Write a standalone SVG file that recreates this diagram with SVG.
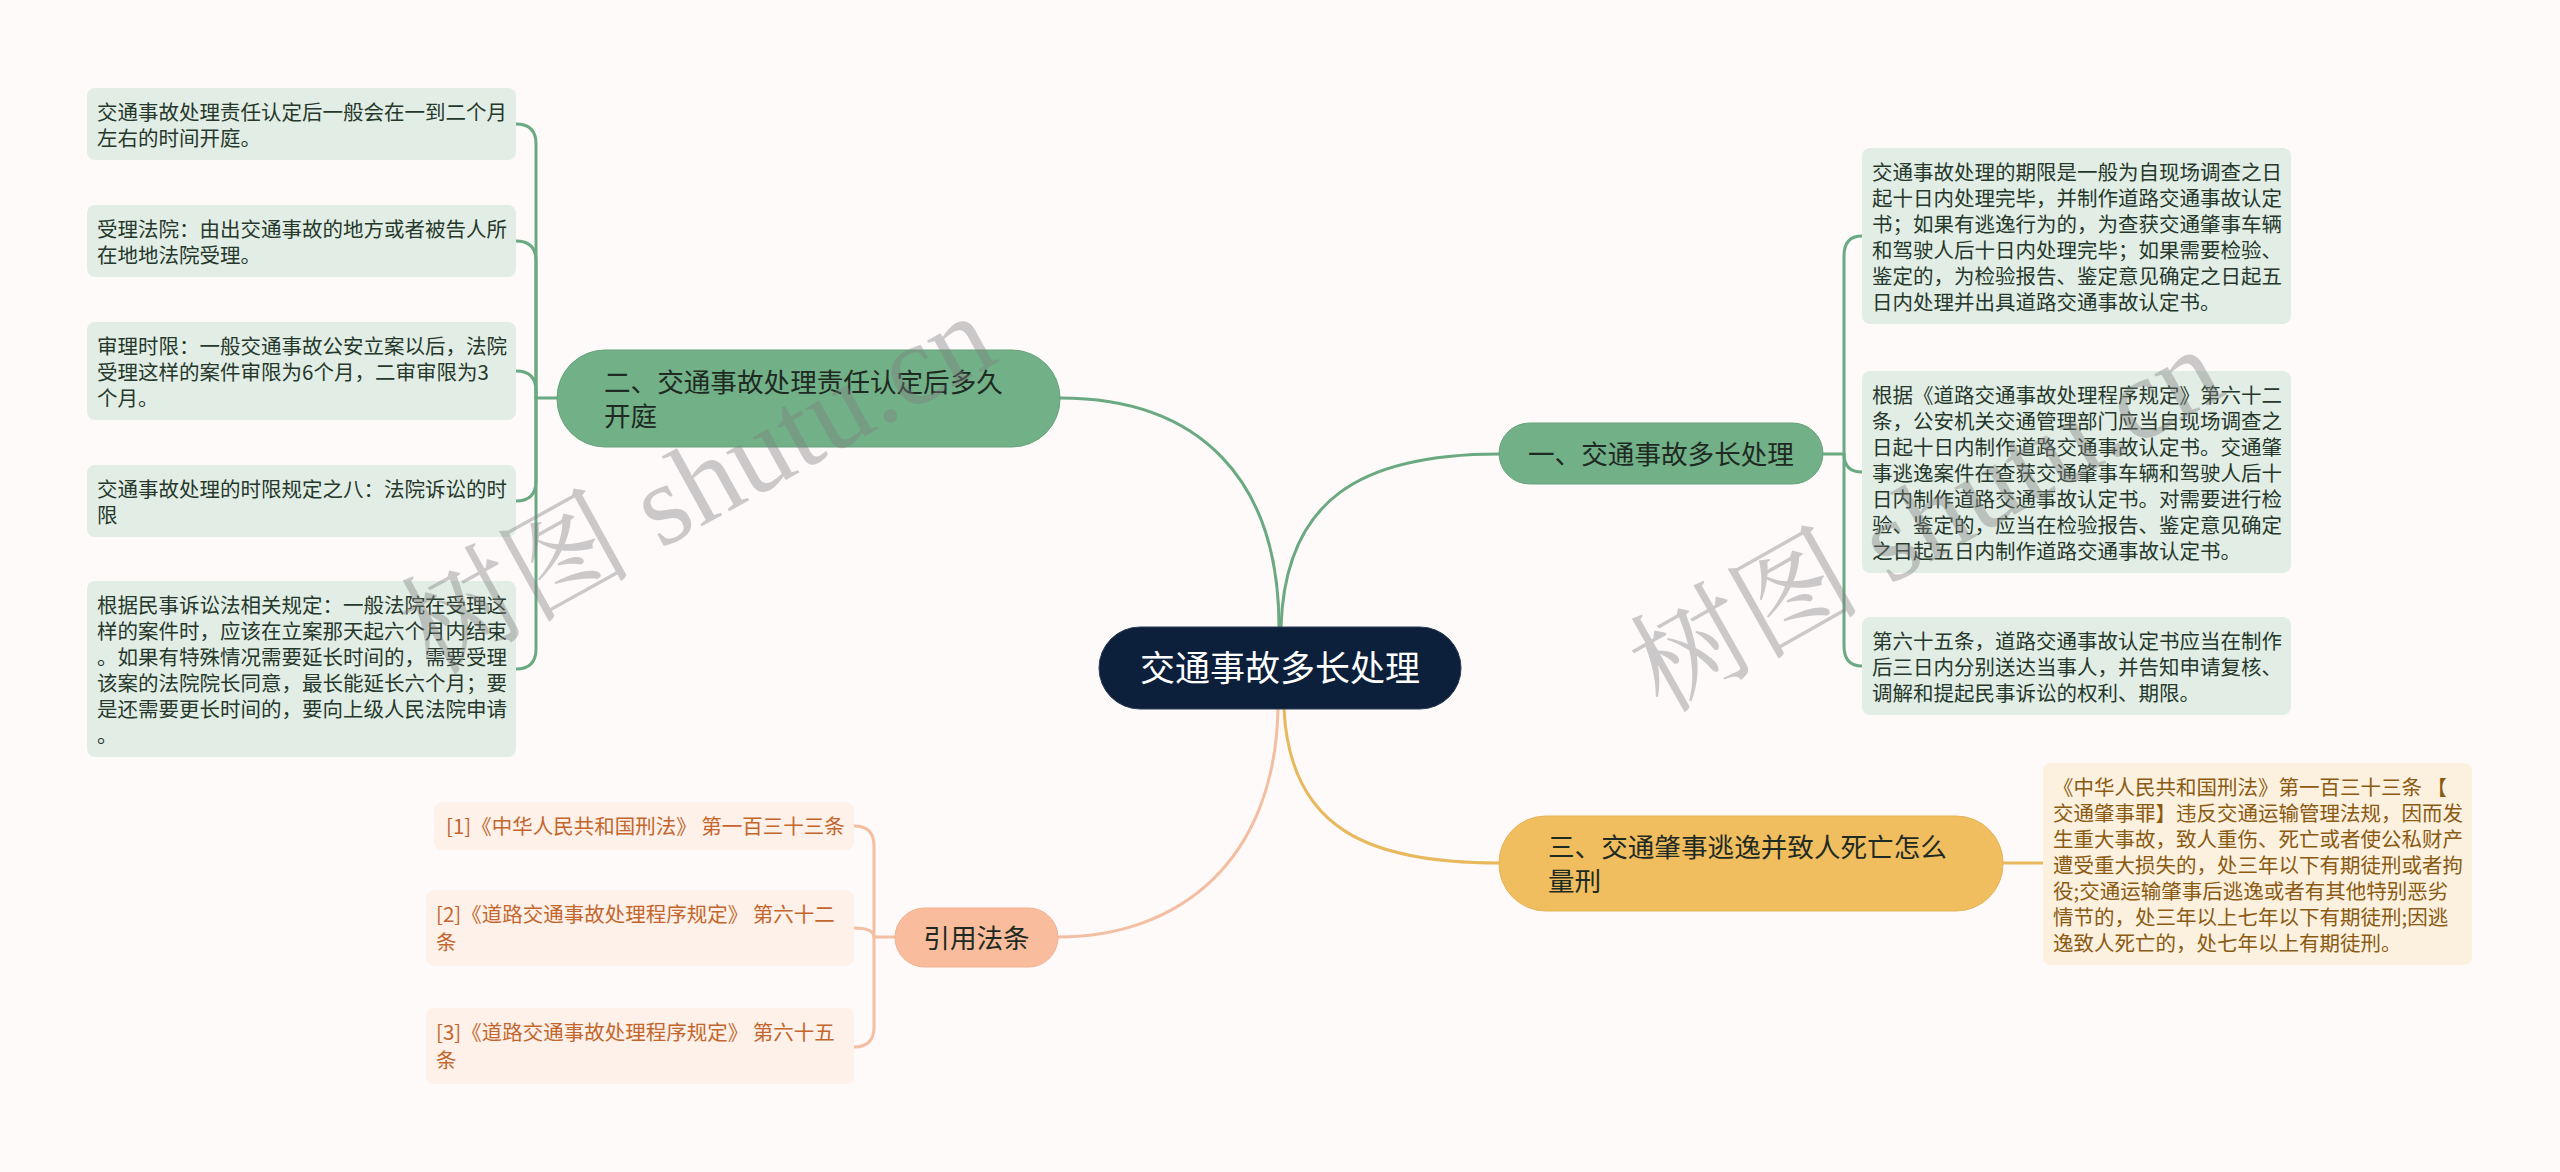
<svg xmlns="http://www.w3.org/2000/svg" width="2560" height="1172" viewBox="0 0 2560 1172">
<defs>
<style>
.bg{fill:#fdfaf9}
.cn{fill:none;stroke-width:3;stroke-linecap:round}
.g{stroke:#6aa981}
.y{stroke:#e8b85c}
.s{stroke:#f4bea2}
.leaf{fill:#e2eee5}
.lt{font-family:"Noto Sans CJK SC","Noto Sans",sans-serif;font-size:20.5px;fill:#26382c}
.br{font-family:"Noto Sans CJK SC","Noto Sans",sans-serif;font-size:26.6px;fill:#1e2a22}
.ot{font-family:"Noto Sans CJK SC","Noto Sans",sans-serif;font-size:20.5px;fill:#8b5a13}
.rt{font-family:"Noto Sans CJK SC","Noto Sans",sans-serif;font-size:20.5px;fill:#c4662c}
.wm{font-family:"Liberation Serif","Noto Serif CJK SC","Noto Sans CJK SC",serif;font-size:116px;fill:#808080;opacity:0.4}
</style>
</defs>
<rect class="bg" x="0" y="0" width="2560" height="1172"/>

<g id="connectors">
<path class="cn g" d="M1281,627 C1285,500 1360,454 1499,454"/>
<path class="cn g" d="M1060,398 C1200,398 1279,480 1279,627"/>
<path class="cn y" d="M1284,709 C1290,830 1370,863 1499,863"/>
<path class="cn s" d="M1278,709 C1275,860 1180,937 1058,937"/>
<path class="cn g" d="M1823,454 H1844"/>
<path class="cn g" d="M1844,454 V256 Q1844,236 1862,236"/>
<path class="cn g" d="M1844,454 Q1844,472 1862,472"/>
<path class="cn g" d="M1844,454 V646 Q1844,666 1862,666"/>
<path class="cn g" d="M557,398 H536"/>
<path class="cn g" d="M536,398 V144 Q536,124 516,124"/>
<path class="cn g" d="M536,398 V261 Q536,241 516,241"/>
<path class="cn g" d="M536,398 V391 Q536,371 516,371"/>
<path class="cn g" d="M536,398 V481 Q536,501 516,501"/>
<path class="cn g" d="M536,398 V649 Q536,669 516,669"/>
<path class="cn y" d="M2003,863 H2043"/>
<path class="cn s" d="M895,937 H874"/>
<path class="cn s" d="M874,937 V846 Q874,826 854,826"/>
<path class="cn s" d="M874,937 Q874,928 854,928"/>
<path class="cn s" d="M874,937 V1027 Q874,1047 854,1047"/>
</g>

<g id="center">
<rect x="1099" y="627" width="362" height="82" rx="41" fill="#0c1f3b" stroke="#2b3b55" stroke-width="1"/>
<text x="1280" y="681" text-anchor="middle" font-family="Noto Sans CJK SC,Noto Sans,sans-serif" font-size="35" fill="#ffffff">交通事故多长处理</text>
</g>

<g id="branch1">
<rect x="1499" y="423" width="324" height="61" rx="30.5" fill="#72b088" stroke="#66a37c" stroke-width="1"/>
<text class="br" x="1661" y="464" text-anchor="middle">一、交通事故多长处理</text>
</g>

<g id="branch2">
<rect x="557" y="350" width="503" height="97" rx="48" fill="#72b088" stroke="#66a37c" stroke-width="1"/>
<text class="br" x="604" y="392">二、交通事故处理责任认定后多久</text>
<text class="br" x="604" y="426">开庭</text>
</g>

<g id="branch3">
<rect x="1499" y="816" width="504" height="95" rx="47" fill="#f0be5f" stroke="#e6b357" stroke-width="1"/>
<text class="br" x="1548" y="857">三、交通肇事逃逸并致人死亡怎么</text>
<text class="br" x="1548" y="891">量刑</text>
</g>

<g id="branch4">
<rect x="895" y="908" width="163" height="59" rx="29.5" fill="#f9bc9c" stroke="#f2b090" stroke-width="1"/>
<text class="br" x="976.5" y="948" text-anchor="middle">引用法条</text>
</g>

<g id="r1">
<rect class="leaf" x="1862" y="148" width="429" height="176" rx="8"/>
<text class="lt" x="1872" y="180">交通事故处理的期限是一般为自现场调查之日</text>
<text class="lt" x="1872" y="206">起十日内处理完毕，并制作道路交通事故认定</text>
<text class="lt" x="1872" y="232">书；如果有逃逸行为的，为查获交通肇事车辆</text>
<text class="lt" x="1872" y="258">和驾驶人后十日内处理完毕；如果需要检验、</text>
<text class="lt" x="1872" y="284">鉴定的，为检验报告、鉴定意见确定之日起五</text>
<text class="lt" x="1872" y="310">日内处理并出具道路交通事故认定书。</text>
</g>
<g id="r2">
<rect class="leaf" x="1862" y="371" width="429" height="202" rx="8"/>
<text class="lt" x="1872" y="403">根据《道路交通事故处理程序规定》第六十二</text>
<text class="lt" x="1872" y="429">条，公安机关交通管理部门应当自现场调查之</text>
<text class="lt" x="1872" y="455">日起十日内制作道路交通事故认定书。交通肇</text>
<text class="lt" x="1872" y="481">事逃逸案件在查获交通肇事车辆和驾驶人后十</text>
<text class="lt" x="1872" y="507">日内制作道路交通事故认定书。对需要进行检</text>
<text class="lt" x="1872" y="533">验、鉴定的，应当在检验报告、鉴定意见确定</text>
<text class="lt" x="1872" y="559">之日起五日内制作道路交通事故认定书。</text>
</g>
<g id="r3">
<rect class="leaf" x="1862" y="617" width="429" height="98" rx="8"/>
<text class="lt" x="1872" y="649">第六十五条，道路交通事故认定书应当在制作</text>
<text class="lt" x="1872" y="675">后三日内分别送达当事人，并告知申请复核、</text>
<text class="lt" x="1872" y="701">调解和提起民事诉讼的权利、期限。</text>
</g>

<g id="l1">
<rect class="leaf" x="87" y="88" width="429" height="72" rx="8"/>
<text class="lt" x="97" y="120">交通事故处理责任认定后一般会在一到二个月</text>
<text class="lt" x="97" y="146">左右的时间开庭。</text>
</g>
<g id="l2">
<rect class="leaf" x="87" y="205" width="429" height="72" rx="8"/>
<text class="lt" x="97" y="237">受理法院：由出交通事故的地方或者被告人所</text>
<text class="lt" x="97" y="263">在地地法院受理。</text>
</g>
<g id="l3">
<rect class="leaf" x="87" y="322" width="429" height="98" rx="8"/>
<text class="lt" x="97" y="354">审理时限：一般交通事故公安立案以后，法院</text>
<text class="lt" x="97" y="380">受理这样的案件审限为6个月，二审审限为3</text>
<text class="lt" x="97" y="406">个月。</text>
</g>
<g id="l4">
<rect class="leaf" x="87" y="465" width="429" height="72" rx="8"/>
<text class="lt" x="97" y="497">交通事故处理的时限规定之八：法院诉讼的时</text>
<text class="lt" x="97" y="523">限</text>
</g>
<g id="l5">
<rect class="leaf" x="87" y="581" width="429" height="176" rx="8"/>
<text class="lt" x="97" y="613">根据民事诉讼法相关规定：一般法院在受理这</text>
<text class="lt" x="97" y="639">样的案件时，应该在立案那天起六个月内结束</text>
<text class="lt" x="97" y="665">。如果有特殊情况需要延长时间的，需要受理</text>
<text class="lt" x="97" y="691">该案的法院院长同意，最长能延长六个月；要</text>
<text class="lt" x="97" y="717">是还需要更长时间的，要向上级人民法院申请</text>
<text class="lt" x="97" y="743">。</text>
</g>

<g id="o1">
<rect x="2043" y="763" width="429" height="202" rx="8" fill="#fcf1de"/>
<text class="ot" x="2053" y="795">《中华人民共和国刑法》第一百三十三条 【</text>
<text class="ot" x="2053" y="821">交通肇事罪】违反交通运输管理法规，因而发</text>
<text class="ot" x="2053" y="847">生重大事故，致人重伤、死亡或者使公私财产</text>
<text class="ot" x="2053" y="873">遭受重大损失的，处三年以下有期徒刑或者拘</text>
<text class="ot" x="2053" y="899">役;交通运输肇事后逃逸或者有其他特别恶劣</text>
<text class="ot" x="2053" y="925">情节的，处三年以上七年以下有期徒刑;因逃</text>
<text class="ot" x="2053" y="951">逸致人死亡的，处七年以上有期徒刑。</text>
</g>

<g id="ref1">
<rect x="434" y="802" width="420" height="48" rx="8" fill="#fdf1ea"/>
<text class="rt" x="446" y="834">[1]《中华人民共和国刑法》 第一百三十三条</text>
</g>
<g id="ref2">
<rect x="426" y="890" width="428" height="76" rx="8" fill="#fdf1ea"/>
<text class="rt" x="436" y="922">[2]《道路交通事故处理程序规定》 第六十二</text>
<text class="rt" x="436" y="950">条</text>
</g>
<g id="ref3">
<rect x="426" y="1008" width="428" height="76" rx="8" fill="#fdf1ea"/>
<text class="rt" x="436" y="1040">[3]《道路交通事故处理程序规定》 第六十五</text>
<text class="rt" x="436" y="1068">条</text>
</g>

<text class="wm" transform="translate(432,676) rotate(-29)">树图 shutu.cn</text>
<text class="wm" transform="translate(1662,714) rotate(-29.5)">树图 shutu.cn</text>
</svg>
